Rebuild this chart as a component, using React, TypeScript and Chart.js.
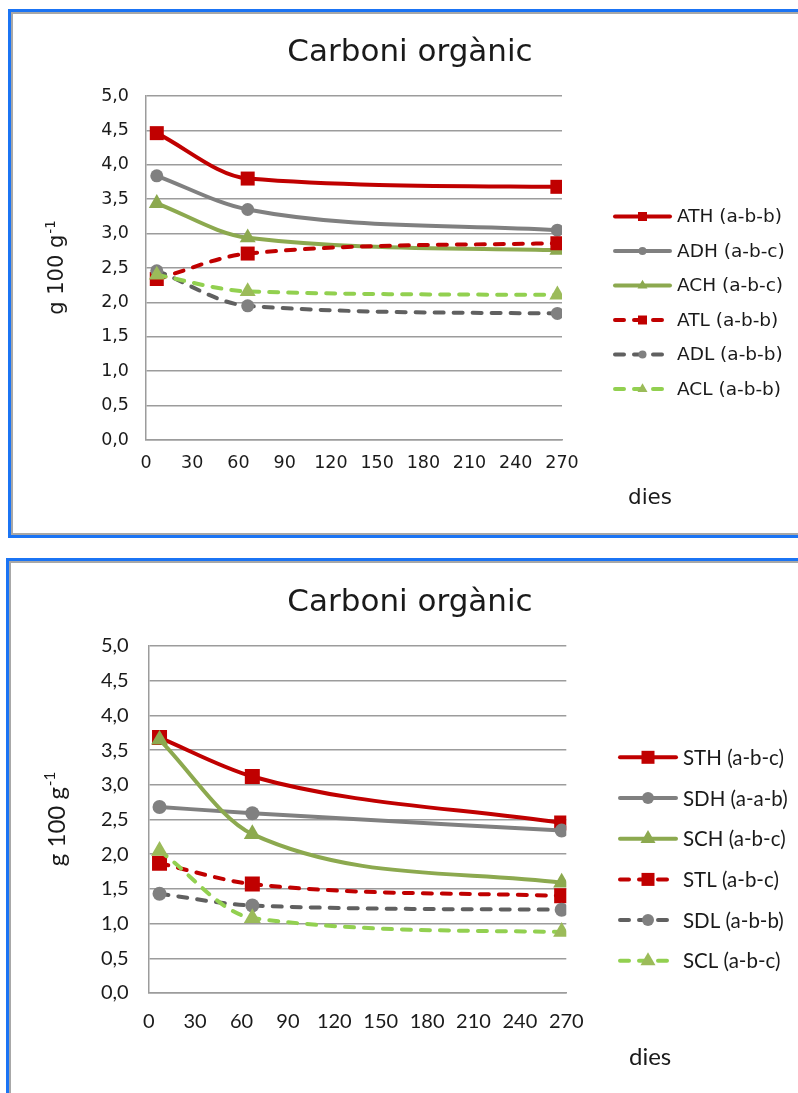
import React, { useEffect, useRef } from 'react';
import { Chart, registerables } from 'chart.js';

Chart.register(...registerables);

// ---------- data ----------
const chartTitle = 'Carboni orgànic';
const yTitleMain = 'g 100 g';
const yTitleSup = '-1';
const xTitle = 'dies';
const xTickValues = [0, 30, 60, 90, 120, 150, 180, 210, 240, 270];
const yTickValues = [0, 0.5, 1, 1.5, 2, 2.5, 3, 3.5, 4, 4.5, 5];

const daysTop = [7, 66, 267];
const ATH = [4.46, 3.8, 3.68];
const ADH = [3.84, 3.35, 3.05];
const ACH = [3.44, 2.94, 2.76];
const ATL = [2.34, 2.71, 2.86];
const ADL = [2.46, 1.95, 1.84];
const ACL = [2.4, 2.16, 2.11];
const topLabels = ['ATH (a-b-b)', 'ADH (a-b-c)', 'ACH (a-b-c)', 'ATL (a-b-b)', 'ADL (a-b-b)', 'ACL (a-b-b)'];

const daysBottom = [7, 67, 267];
const STH = [3.68, 3.12, 2.45];
const SDH = [2.68, 2.59, 2.34];
const SCH = [3.65, 2.29, 1.59];
const STL = [1.87, 1.57, 1.4];
const SDL = [1.43, 1.26, 1.2];
const SCL = [2.05, 1.08, 0.88];
const bottomLabels = ['STH (a-b-c)', 'SDH (a-a-b)', 'SCH (a-b-c)', 'STL (a-b-c)', 'SDL (a-b-b)', 'SCL (a-b-c)'];

// ---------- styles ----------
type Shape = 'rect' | 'circle' | 'triangle';
interface SeriesStyle { line: string; marker: string; dash: boolean; shape: Shape; }
const STYLES: SeriesStyle[] = [
  { line: '#C00000', marker: '#C00000', dash: false, shape: 'rect' },
  { line: '#808080', marker: '#808080', dash: false, shape: 'circle' },
  { line: '#8CA94F', marker: '#8CA94F', dash: false, shape: 'triangle' },
  { line: '#C00000', marker: '#C00000', dash: true, shape: 'rect' },
  { line: '#606060', marker: '#808080', dash: true, shape: 'circle' },
  { line: '#92D050', marker: '#9BBB59', dash: true, shape: 'triangle' },
];

const TEXT = '#1a1a1a';
const GRID = '#9c9c9c';
const DASH = [9, 10];

interface Layout {
  width: number; height: number; pageTop: number;
  area: { left: number; top: number; right: number; bottom: number };
  titleFamily: string; titleSize: number; titleX: number; titleY: number;
  yTitleSize: number; yTitleSupSize: number; yTitleRaise: number; yTitleX: number;
  xTitleSize: number; xTitleX: number; xTitleY: number;
  family: string; tickSize: number; yTickPad: number; xTickPad: number;
  legendSize: number; legendX0: number; legendX1: number; legendTextX: number; legendY0: number; legendDy: number;
  legendMarker: Record<Shape, number>;
  pointSize: Record<Shape, number>;
}

const topLayout: Layout = {
  width: 798, height: 540, pageTop: 0,
  area: { left: 146, top: 96, right: 562, bottom: 440 },
  titleFamily: 'DejaVu Sans', titleSize: 31, titleX: 410, titleY: 61,
  yTitleSize: 21, yTitleSupSize: 13.5, yTitleRaise: 8.5, yTitleX: 63,
  xTitleSize: 21.5, xTitleX: 628, xTitleY: 504,
  family: 'DejaVu Sans', tickSize: 17.5, yTickPad: 17, xTickPad: 13,
  legendSize: 18.5, legendX0: 613, legendX1: 672, legendTextX: 677, legendY0: 216.5, legendDy: 34.5,
  legendMarker: { rect: 9, circle: 8, triangle: 10 },
  pointSize: { rect: 14, circle: 13, triangle: 16 },
};

const bottomLayout: Layout = {
  width: 798, height: 548, pageTop: 545,
  area: { left: 148.7, top: 101, right: 566.3, bottom: 448 },
  titleFamily: 'DejaVu Sans', titleSize: 31, titleX: 410, titleY: 66,
  yTitleSize: 24, yTitleSupSize: 15, yTitleRaise: 10, yTitleX: 65,
  xTitleSize: 24, xTitleX: 629, xTitleY: 520,
  family: 'Lato', tickSize: 20, yTickPad: 20, xTickPad: 17,
  legendSize: 20.5, legendX0: 618, legendX1: 678, legendTextX: 683, legendY0: 212.3, legendDy: 40.7,
  legendMarker: { rect: 13, circle: 12, triangle: 15 },
  pointSize: { rect: 15, circle: 14, triangle: 17 },
};

function radiusFor(shape: Shape, size: number) {
  if (shape === 'rect') return size / 2 / Math.SQRT1_2;
  if (shape === 'triangle') return size / Math.sqrt(3);
  return size / 2;
}

function drawMarker(ctx: CanvasRenderingContext2D, shape: Shape, x: number, y: number, size: number, color: string) {
  ctx.save();
  ctx.setLineDash([]);
  ctx.fillStyle = color;
  ctx.beginPath();
  if (shape === 'rect') {
    ctx.rect(x - size / 2, y - size / 2, size, size);
  } else if (shape === 'circle') {
    ctx.arc(x, y, size / 2, 0, Math.PI * 2);
  } else {
    const r = size / Math.sqrt(3);
    ctx.moveTo(x, y - r);
    ctx.lineTo(x + size / 2, y + r / 2);
    ctx.lineTo(x - size / 2, y + r / 2);
    ctx.closePath();
  }
  ctx.fill();
  ctx.restore();
}

function ChartBox({ layout, days, series, labels }: { layout: Layout; days: number[]; series: number[][]; labels: string[] }) {
  const ref = useRef<HTMLCanvasElement | null>(null);
  useEffect(() => {
    const canvas = ref.current;
    if (!canvas) return;
    const L = layout;
    const datasets = series.map((vals, i) => {
      const st = STYLES[i];
      return {
        label: labels[i],
        data: vals.map((v, k) => ({ x: days[k], y: v })),
        borderColor: st.line,
        backgroundColor: st.marker,
        borderWidth: 4,
        borderDash: st.dash ? DASH : [],
        borderCapStyle: 'round' as const,
        borderJoinStyle: 'round' as const,
        cubicInterpolationMode: 'monotone' as const,
        pointStyle: st.shape,
        pointRadius: radiusFor(st.shape, L.pointSize[st.shape]),
        pointBackgroundColor: st.marker,
        pointBorderColor: st.marker,
        pointBorderWidth: 0,
        order: series.length - i,
      };
    });

    const overlay = {
      id: 'overlay',
      afterDraw(chart: Chart) {
        const ctx = chart.ctx;
        ctx.save();
        ctx.fillStyle = TEXT;
        // title
        ctx.font = `${L.titleSize}px "${L.titleFamily}"`;
        ctx.textAlign = 'center';
        ctx.textBaseline = 'alphabetic';
        ctx.fillText(chartTitle, L.titleX, L.titleY);
        // y title
        const yc = (L.area.top + L.area.bottom) / 2;
        ctx.save();
        ctx.translate(L.yTitleX, yc);
        ctx.rotate(-Math.PI / 2);
        ctx.font = `${L.yTitleSize}px "${L.family}"`;
        const w1 = ctx.measureText(yTitleMain).width;
        ctx.font = `${L.yTitleSupSize}px "${L.family}"`;
        const w2 = ctx.measureText(yTitleSup).width;
        const start = -(w1 + w2) / 2;
        ctx.textAlign = 'left';
        ctx.font = `${L.yTitleSize}px "${L.family}"`;
        ctx.fillText(yTitleMain, start, 0);
        ctx.font = `${L.yTitleSupSize}px "${L.family}"`;
        ctx.fillText(yTitleSup, start + w1 + 1, -L.yTitleRaise);
        ctx.restore();
        // x title
        ctx.font = `${L.xTitleSize}px "${L.family}"`;
        ctx.textAlign = 'left';
        ctx.fillText(xTitle, L.xTitleX, L.xTitleY);
        // legend
        labels.forEach((lab, i) => {
          const st = STYLES[i];
          const y = L.legendY0 + i * L.legendDy;
          ctx.save();
          ctx.strokeStyle = st.line;
          ctx.lineWidth = 4;
          ctx.lineCap = 'round';
          ctx.setLineDash(st.dash ? DASH : []);
          ctx.beginPath();
          ctx.moveTo(L.legendX0 + 2, y);
          ctx.lineTo(L.legendX1 - 2, y);
          ctx.stroke();
          ctx.restore();
          drawMarker(ctx, st.shape, (L.legendX0 + L.legendX1) / 2, y, L.legendMarker[st.shape], st.marker);
          ctx.fillStyle = TEXT;
          ctx.font = `${L.legendSize}px "${L.family}"`;
          ctx.textAlign = 'left';
          ctx.textBaseline = 'middle';
          ctx.fillText(lab, L.legendTextX, y + 1);
        });
        ctx.restore();
      },
    };

    const chart = new Chart(canvas, {
      type: 'line',
      data: { datasets },
      options: {
        responsive: false,
        animation: false,
        devicePixelRatio: 1,
        layout: {
          padding: {
            left: L.area.left - 100,
            right: L.width - L.area.right,
            top: L.area.top,
            bottom: L.height - 60 - L.area.bottom,
          },
        },
        plugins: { legend: { display: false }, title: { display: false }, tooltip: { enabled: false } },
        scales: {
          x: {
            type: 'linear',
            min: xTickValues[0],
            max: xTickValues[xTickValues.length - 1],
            afterFit: (s: any) => { s.height = 60; },
            afterBuildTicks: (s: any) => { s.ticks = xTickValues.map((v) => ({ value: v })); },
            grid: { display: false, drawTicks: false },
            border: { display: true, color: GRID, width: 1.5 },
            ticks: {
              autoSkip: false,
              maxRotation: 0,
              padding: L.xTickPad,
              color: TEXT,
              font: { family: L.family, size: L.tickSize },
              callback: (v: any) => String(v),
            },
          },
          y: {
            type: 'linear',
            min: yTickValues[0],
            max: yTickValues[yTickValues.length - 1],
            afterFit: (s: any) => { s.width = 100; },
            afterBuildTicks: (s: any) => { s.ticks = yTickValues.map((v) => ({ value: v })); },
            grid: { display: true, drawTicks: false, color: GRID, lineWidth: 1.5 },
            border: { display: true, color: GRID, width: 1.5 },
            ticks: {
              padding: L.yTickPad,
              color: TEXT,
              font: { family: L.family, size: L.tickSize },
              callback: (v: any) => Number(v).toFixed(1).replace('.', ','),
            },
          },
        },
      },
      plugins: [overlay],
    });
    return () => chart.destroy();
  }, [layout, days, series, labels]);

  return (
    <canvas
      ref={ref}
      width={layout.width}
      height={layout.height}
      style={{ position: 'absolute', left: 0, top: layout.pageTop, width: layout.width, height: layout.height }}
    />
  );
}

const boxStyle = (left: number, top: number, height: number): React.CSSProperties => ({
  position: 'absolute',
  left,
  top,
  width: 840,
  height,
  boxSizing: 'border-box',
  border: '3.5px solid #1B74F4',
  boxShadow: 'inset 0 0 0 2px #a8a8a8',
  background: '#fff',
});

const topSeries = [ATH, ADH, ACH, ATL, ADL, ACL];
const bottomSeries = [STH, SDH, SCH, STL, SDL, SCL];

export default function App() {
  return (
    <div style={{ position: 'absolute', left: 0, top: 0, width: 798, height: 1093, overflow: 'hidden', background: '#fff' }}>
      <div style={boxStyle(8, 9, 529)} />
      <div style={boxStyle(6, 558, 600)} />
      <ChartBox layout={topLayout} days={daysTop} series={topSeries} labels={topLabels} />
      <ChartBox layout={bottomLayout} days={daysBottom} series={bottomSeries} labels={bottomLabels} />
    </div>
  );
}
